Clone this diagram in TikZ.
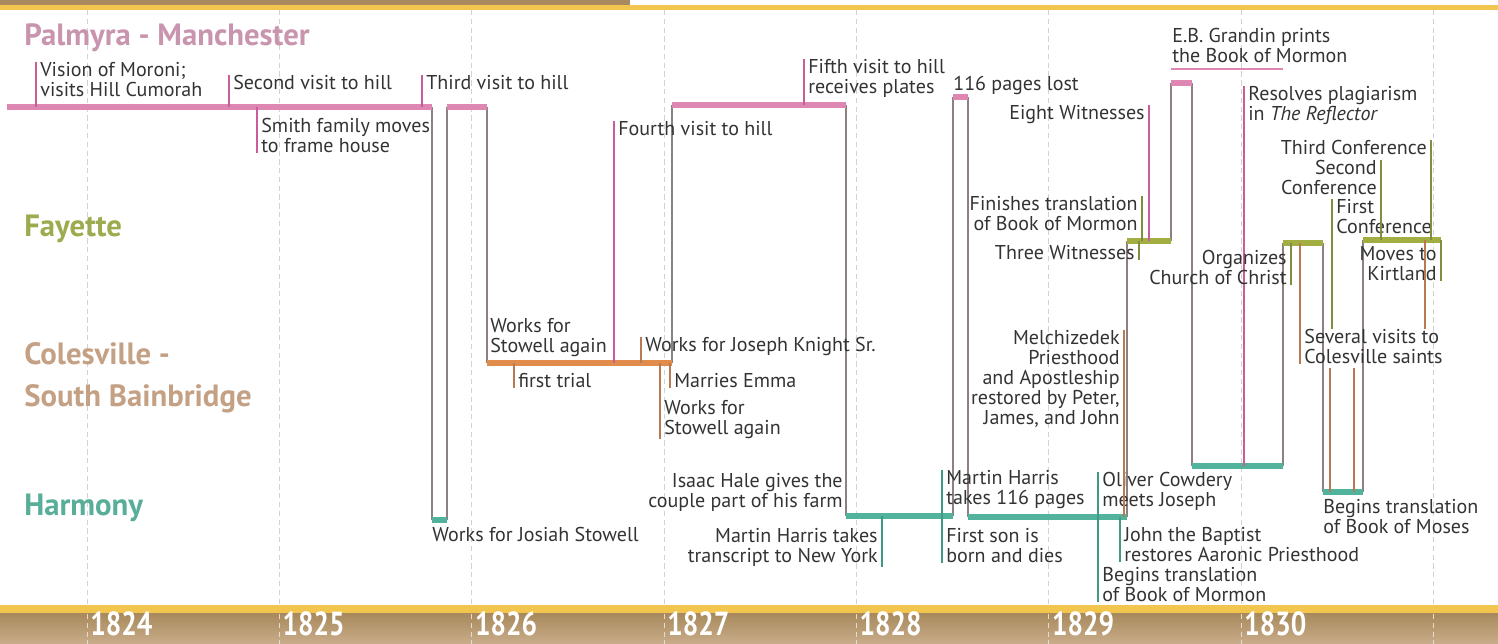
\documentclass[tikz,border=0pt]{standalone}
\usepackage{fontspec}
\setmainfont{PT Sans}
\usepackage{tikz}
\usepackage{xcolor}

\definecolor{pinkbar}{HTML}{DE87B2}
\definecolor{pinkline}{HTML}{C95C9A}
\definecolor{tealbar}{HTML}{52B39D}
\definecolor{tealline}{HTML}{3E9A83}
\definecolor{olivebar}{HTML}{A2AD42}
\definecolor{oliveline}{HTML}{7F8F3E}
\definecolor{orangebar}{HTML}{E18C4A}
\definecolor{brownline}{HTML}{B87A52}
\definecolor{linkgray}{HTML}{8C8080}
\definecolor{txt}{HTML}{333333}
\definecolor{palmyra}{HTML}{C995AE}
\definecolor{fayette}{HTML}{9DAA4E}
\definecolor{colesville}{HTML}{C4A185}
\definecolor{harmony}{HTML}{58AE98}
\definecolor{band}{HTML}{F2C54E}
\definecolor{tantop}{HTML}{A98A5E}
\definecolor{tanbot}{HTML}{C9AD8A}

\begin{document}
\begin{tikzpicture}[x=0.02cm, y=-0.02cm,
  bar/.style={line width=0.12cm},
  link/.style={linkgray, line width=0.8pt},
  tick/.style={line width=0.8pt},
  grid/.style={gray!35, line width=0.5pt, dash pattern=on 3pt off 2pt},
  lbl/.style={text=txt, font=\fontsize{11.4}{11.38}\selectfont, inner xsep=0.08cm, inner ysep=0pt, align=left, anchor=north west},
  lblr/.style={lbl, align=right, anchor=north east},
  place/.style={font=\bfseries\fontsize{17.5}{23.9}\selectfont, inner sep=0pt, anchor=west, align=left},
  year/.style={text=white, font=\bfseries\fontsize{19}{19}\selectfont, inner sep=0pt, anchor=base west}]
  \useasboundingbox (0,0) rectangle (1498,644);

  % top and bottom bands
  \fill[tantop] (0,0) rectangle (630,5);
  \fill[band] (0,5) rectangle (1498,10);
  \fill[band] (0,605) rectangle (1498,614);
  \shade[top color=tantop, bottom color=tanbot] (0,614) rectangle (1498,644);

  % year grid
  \foreach \i in {0,...,7} {
    \draw[grid] (87+192.33*\i,10) -- (87+192.33*\i,605);
    \draw[grid, white!70!tantop] (87+192.33*\i,614) -- (87+192.33*\i,644);
  }
  \foreach \yr [count=\i from 0] in {1824,...,1830}
    \node[year] (y\yr) at (90+192.33*\i,636) {\scalebox{0.82}[1]{\yr}};

  % places
  \node[place, text=palmyra] (palmyra) at (24,38) {Palmyra - Manchester};
  \node[place, text=fayette] (fayette) at (24,229) {Fayette};
  \node[place, text=colesville] (colesville) at (24,378) {Colesville -\\South Bainbridge};
  \node[place, text=harmony] (harmony) at (24,508) {Harmony};

  % stays
  \coordinate (a1) at (7,107);     \coordinate (a2) at (432,107);
  \coordinate (s1) at (432,520);   \coordinate (s2) at (447,520);
  \coordinate (b1) at (447,107);   \coordinate (b2) at (487,107);
  \coordinate (o1) at (487,363);   \coordinate (o2) at (672,363);
  \coordinate (c1) at (672,105);   \coordinate (c2) at (846,105);
  \coordinate (d1) at (846,516);   \coordinate (d2) at (953,516);
  \coordinate (e1) at (953,97);    \coordinate (e2) at (968,97);
  \coordinate (f1) at (968,517);   \coordinate (f2) at (1127,517);
  \coordinate (g1) at (1127,241);  \coordinate (g2) at (1171,241);
  \coordinate (h1) at (1171,83);   \coordinate (h2) at (1192,83);
  \coordinate (i1) at (1192,466);  \coordinate (i2) at (1283,466);
  \coordinate (j1) at (1283,243);  \coordinate (j2) at (1323,243);
  \coordinate (k1) at (1323,492);  \coordinate (k2) at (1363,492);
  \coordinate (l1) at (1363,240);  \coordinate (l2) at (1441,240);

  % moves
  \foreach \p/\q in {a2/s1, s2/b1, b2/o1, o2/c1, c2/d1, d2/e1, e2/f1,
                     f2/g1, g2/h1, h2/i1, i2/j1, j2/k1, k2/l1}
    \draw[link] (\p) -- (\q);

  \foreach \p/\q in {a1/a2, b1/b2, c1/c2, e1/e2, h1/h2}
    \draw[bar, pinkbar] (\p) -- (\q);
  \foreach \p/\q in {s1/s2, d1/d2, f1/f2, i1/i2, k1/k2}
    \draw[bar, tealbar] (\p) -- (\q);
  \foreach \p/\q in {g1/g2, j1/j2, l1/l2}
    \draw[bar, olivebar] (\p) -- (\q);
  \draw[bar, orangebar] (o1) -- (o2);

  % Palmyra - Manchester
  \node[lbl] (vision) at (36,62) {Vision of Moroni;\\visits Hill Cumorah};
  \node[lbl] (second) at (229,75) {Second visit to hill};
  \node[lbl] (third) at (422,75) {Third visit to hill};
  \node[lbl] (smith) at (257,118) {Smith family moves\\to frame house};
  \draw[tick, pinkline] (vision.north west) -- (vision.north west |- a1);
  \draw[tick, pinkline] (second.north west) -- (second.north west |- a1);
  \draw[tick, pinkline] (third.north west) -- (third.north west |- a1);
  \draw[tick, pinkline] (smith.south west) -- (smith.south west |- a1);
  \node[lbl] (josiah) at (428,527) {Works for Josiah Stowell};

  % Colesville - South Bainbridge
  \node[lbl] (stowell) at (486,318) {Works for\\Stowell again};
  \node[lbl] (fourth) at (614,121) {Fourth visit to hill};
  \node[lbl] (knight) at (641,337) {Works for Joseph Knight Sr.};
  \node[lbl] (trial) at (514,373) {first trial};
  \node[lbl] (emma) at (670,373) {Marries Emma};
  \node[lbl] (stowellb) at (660,400) {Works for\\Stowell again};
  \draw[tick, pinkline] (fourth.north west) -- (fourth.north west |- o1);
  \draw[tick, brownline] (knight.north west) -- (knight.north west |- o1);
  \draw[tick, brownline] (trial.south west) -- (trial.south west |- o1);
  \draw[tick, brownline] (emma.south west) -- (emma.south west |- o1);
  \draw[tick, brownline] (stowellb.south west) -- (stowellb.south west |- o1);

  \node[lbl] (fifth) at (804,59) {Fifth visit to hill\\receives plates};
  \draw[tick, pinkline] (fifth.north west) -- (fifth.north west |- c1);
  \node[lbl] (lost) at (949,76) {116 pages lost};

  % Harmony
  \node[lblr] (hale) at (847,473) {Isaac Hale gives the\\couple part of his farm};
  \node[lblr] (transcript) at (882,528) {Martin Harris takes\\transcript to New York};
  \draw[tick, tealline] (transcript.south east) -- (transcript.south east |- d1);
  \node[lbl] (takes) at (942,470) {Martin Harris\\takes 116 pages};
  \node[lbl] (son) at (942,528) {First son is\\born and dies};
  \draw[tick, tealline] (takes.north west) -- (son.south west);
  \node[lbl] (oliver) at (1098,472) {Oliver Cowdery\\meets Joseph};
  \node[lbl] (begins) at (1098,567) {Begins translation\\of Book of Mormon};
  \draw[tick, tealline] (oliver.north west) -- (begins.south west);
  \node[lbl] (baptist) at (1120,527) {John the Baptist\\restores Aaronic Priesthood};
  \draw[tick, tealline] (baptist.south west) -- (baptist.south west |- f1);
  \node[lblr] (melch) at (1124,330) {Melchizedek\\Priesthood\\and Apostleship\\restored by Peter,\\James, and John};
  \draw[tick, brownline] (melch.north east) -- (melch.north east |- f1);

  % Fayette
  \node[lblr] (three) at (1139,245) {Three Witnesses};
  \node[lblr] (finishes) at (1142,196) {Finishes translation\\of Book of Mormon};
  \node[lblr] (eight) at (1149,105) {Eight Witnesses};
  \draw[tick, oliveline] (three.south east) -- (three.south east |- g1);
  \draw[tick, oliveline] (finishes.north east) -- (finishes.north east |- g1);
  \draw[tick, pinkline] (eight.north east) -- (eight.north east |- g1);

  \node[lbl] (grandin) at (1168,28) {E.B. Grandin prints\\the Book of Mormon};
  \coordinate (underline) at (1283,69);
  \draw[pinkbar, line width=0.04cm] (h1 |- underline) -- (underline);
  \node[lbl] (reflector) at (1244,86) {Resolves plagiarism\\in \textit{The Reflector}};
  \draw[tick, pinkline] (reflector.north west) -- (reflector.north west |- i1);

  \node[lblr] (conf3) at (1431,140) {Third Conference};
  \node[lblr] (conf2) at (1381,160) {Second\\Conference};
  \node[lbl] (conf1) at (1332,199) {First\\Conference};
  \node[lblr] (organizes) at (1291,250) {Organizes\\Church of Christ};
  \node[lblr] (kirtland) at (1441,246) {Moves to\\Kirtland};
  \node[lbl] (visits) at (1300,329) {Several visits to\\Colesville saints};
  \node[lbl] (moses) at (1319,499) {Begins translation\\of Book of Moses};
  \draw[tick, oliveline] (conf3.north east) -- (conf3.north east |- l1);
  \draw[tick, oliveline] (conf2.north east) -- (conf2.north east |- l1);
  \draw[tick, oliveline] (conf1.north west) -- (conf1.north west |- visits.north);
  \draw[tick, oliveline] (organizes.south east) -- (organizes.south east |- j1);
  \draw[tick, oliveline] (kirtland.south east) -- (kirtland.south east |- l1);
  \draw[tick, brownline] (visits.south west) -- (visits.south west |- j1);
  \coordinate (visit1) at (1330,368);
  \coordinate (visit2) at (1354,368);
  \coordinate (visit3) at (1425,329);
  \draw[tick, brownline] (visit1) -- (visit1 |- k1);
  \draw[tick, brownline] (visit2) -- (visit2 |- k1);
  \draw[tick, brownline] (visit3) -- (visit3 |- l1);
\end{tikzpicture}
\end{document}
